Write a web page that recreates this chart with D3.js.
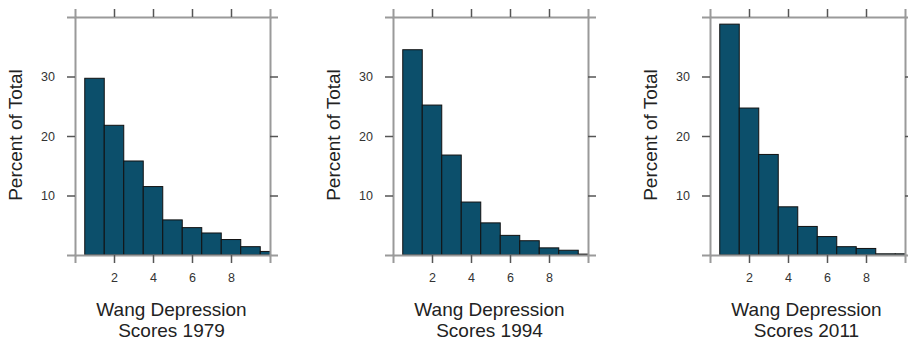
<!DOCTYPE html>
<meta charset="utf-8">
<script src="https://d3js.org/d3.v7.min.js"></script>
<style>
    body {
        margin: 0;
        background: #fff;
    }

    .axis .domain {
        stroke: #9a9a9a;
        stroke-width: 2;
    }

    .axis .tick line {
        stroke: #555;
        stroke-width: 1.5;
    }

    .axis .tick text {
        font-family: "Liberation Sans", Arial, sans-serif;
        font-size: 12.5px;
        fill: #333;
    }

    .bar {
        fill: #0c4f6b;
        stroke: #111;
        stroke-width: 1;
    }

    .lab {
        font-family: "Liberation Sans", Arial, sans-serif;
        font-size: 19px;
        fill: #222;
    }
</style>
<div id="my_dataviz"></div>
<script>
// percent of total for Wang depression scores 1..10
const scores = [1, 2, 3, 4, 5, 6, 7, 8, 9, 10];
const years = ["1979", "1994", "2011"];
const pct1979 = [29.7, 21.8, 15.8, 11.5, 5.9, 4.6, 3.7, 2.6, 1.4, 0.6];
const pct1994 = [34.5, 25.2, 16.8, 8.9, 5.4, 3.3, 2.4, 1.2, 0.8, 0.15];
const pct2011 = [38.8, 24.7, 16.9, 8.1, 4.8, 3.1, 1.4, 1.1, 0.2, 0.2];
const xTicks = [2, 4, 6, 8];
const yTicks = [10, 20, 30];

const series = [pct1979, pct1994, pct2011];

const W = 908, H = 342;
const panelLeft = [75, 393, 710],
    panelTop = 17,
    width = 195,
    height = 238;

const svg = d3.select("#my_dataviz").append("svg")
    .attr("width", W)
    .attr("height", H);

let x = d3.scaleLinear().domain([0, 10]).range([0, width]);
let y = d3.scaleLinear().domain([0, 40]).range([height, 0]);

function drawPanel(i) {
    const g = svg.append("g")
        .attr("transform", "translate(" + panelLeft[i] + "," + panelTop + ")");

    g.append("clipPath").attr("id", "clip" + i)
        .append("rect").attr("width", width).attr("height", height + 1);

    g.append("g").attr("clip-path", "url(#clip" + i + ")")
        .selectAll("rect")
        .data(scores)
        .join("rect")
        .attr("class", "bar")
        .attr("x", d => x(d - 0.5))
        .attr("width", d => x(d + 0.5) - x(d - 0.5))
        .attr("y", (d, k) => y(series[i][k]))
        .attr("height", (d, k) => height - y(series[i][k]));

    setAxes(g);
    setText(g, i);
}

function setAxes(g) {
    g.append("g").attr("class", "axis")
        .attr("transform", "translate(0," + height + ")")
        .call(d3.axisBottom(x).tickValues(xTicks).tickSize(8).tickPadding(10));
    g.append("g").attr("class", "axis")
        .call(d3.axisTop(x).tickValues(xTicks).tickSize(8).tickFormat(""));
    g.append("g").attr("class", "axis")
        .call(d3.axisLeft(y).tickValues(yTicks).tickSize(8).tickPadding(12));
    g.append("g").attr("class", "axis")
        .attr("transform", "translate(" + width + ",0)")
        .call(d3.axisRight(y).tickValues(yTicks).tickSize(8).tickFormat(""));
}

function setText(g, i) {
    g.append("text").attr("class", "lab")
        .attr("transform", "rotate(-90)")
        .attr("x", -height / 2 + 1)
        .attr("y", -53)
        .attr("text-anchor", "middle")
        .text("Percent of Total");

    const t = g.append("text").attr("class", "lab")
        .attr("text-anchor", "middle");
    t.append("tspan").attr("x", width / 2 - 1).attr("y", 316 - panelTop)
        .text("Wang Depression");
    t.append("tspan").attr("x", width / 2 - 1).attr("y", 337 - panelTop)
        .text("Scores " + years[i]);
}

years.forEach((d, i) => drawPanel(i));
</script>
